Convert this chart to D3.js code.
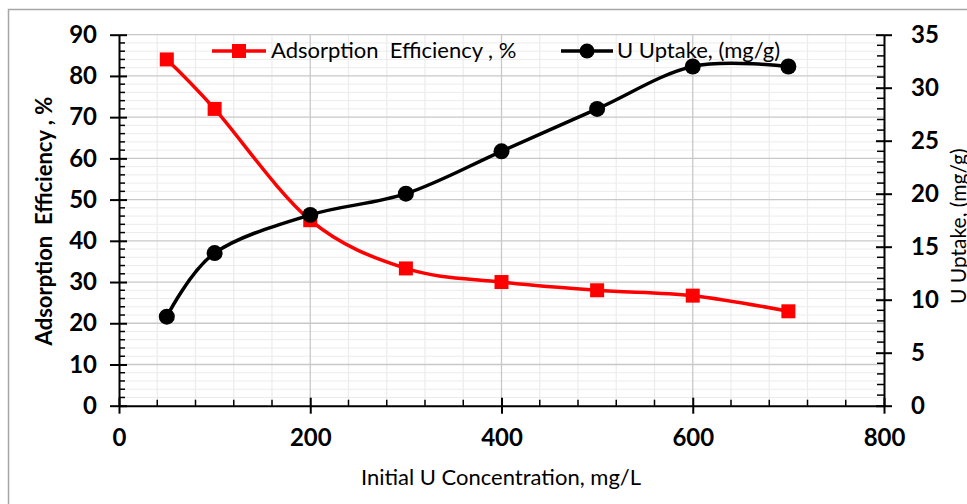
<!DOCTYPE html>
<html>
<head>
<meta charset="utf-8">
<script src="https://cdn.jsdelivr.net/npm/d3@7/dist/d3.min.js"></script>
<style>
  html, body { margin: 0; padding: 0; background: #fff; }
  svg { display: block; font-family: Lato, "Open Sans", sans-serif; }
  text { white-space: pre; }
</style>
</head>
<body>
<svg id="chart" width="967" height="504"></svg>
<script>
// Initial uranium concentration (mg/L)
const concentration = [50, 100, 200, 300, 400, 500, 600, 700];
// Adsorption efficiency (%) — left axis
const efficiency = [84, 72, 45, 33.3, 30, 28, 26.7, 22.9];
// Uranium uptake (mg/g) — right axis
const uptake = [8.4, 14.4, 18, 20, 24, 28, 32, 32];

const xTicks = [0, 200, 400, 600, 800];
const yLeftTicks = [0, 10, 20, 30, 40, 50, 60, 70, 80, 90];
const yRightTicks = [0, 5, 10, 15, 20, 25, 30, 35];

const seriesNames = ["Adsorption  Efficiency , %", "U Uptake, (mg/g)"];
const xTitle = "Initial U Concentration, mg/L";
const yLeftTitle = "Adsorption  Efficiency , %";
const yRightTitle = "U Uptake, (mg/g)";

const svg = d3.select("#chart");

const plot = { left: 119, right: 884, top: 34.7, bottom: 405.7 };
const x = d3.scaleLinear().domain([0, 800]).range([plot.left, plot.right]);
const yL = d3.scaleLinear().domain([0, 90]).range([plot.bottom, plot.top]);
const yR = d3.scaleLinear().domain([0, 35]).range([plot.bottom, plot.top]);

// Outer chart frame
svg.append("rect")
  .attr("x", 8.5).attr("y", 9.5)
  .attr("width", 1000).attr("height", 600)
  .attr("fill", "none").attr("stroke", "#a6a6a6").attr("stroke-width", 1.5);

// Gridlines: minor first, then major on top
const grid = svg.append("g");
const hMinor = d3.range(0, 91, 2).filter(v => v % 10 !== 0);
const vMinor = d3.range(0, 801, 40).filter(v => v % 200 !== 0);
grid.selectAll(".hmin").data(hMinor).join("line")
  .attr("x1", plot.left).attr("x2", plot.right)
  .attr("y1", d => yL(d)).attr("y2", d => yL(d))
  .attr("stroke", "#ececec").attr("stroke-width", 1);
grid.selectAll(".vmin").data(vMinor).join("line")
  .attr("y1", plot.top).attr("y2", plot.bottom)
  .attr("x1", d => x(d)).attr("x2", d => x(d))
  .attr("stroke", "#ececec").attr("stroke-width", 1.2);
grid.selectAll(".hmaj").data(yLeftTicks.filter(v => v > 0)).join("line")
  .attr("x1", plot.left).attr("x2", plot.right)
  .attr("y1", d => yL(d)).attr("y2", d => yL(d))
  .attr("stroke", "#c8c8c8").attr("stroke-width", 1.3);
grid.selectAll(".vmaj").data(xTicks.filter(v => v > 0 && v < 800)).join("line")
  .attr("y1", plot.top).attr("y2", plot.bottom)
  .attr("x1", d => x(d)).attr("x2", d => x(d))
  .attr("stroke", "#c8c8c8").attr("stroke-width", 1.3);

// Axes
function styleAxis(g) {
  g.selectAll(".domain").attr("stroke", "#000").attr("stroke-width", 2);
  g.selectAll(".tick line").attr("stroke", "#000").attr("stroke-width", 2);
  g.selectAll("text").attr("fill", "#000").attr("font-weight", "bold")
    .attr("font-size", 24).attr("font-family", "Lato, 'Open Sans', sans-serif");
}

// Minor ticks (inside the plot)
const minorTicks = svg.append("g");
minorTicks.selectAll(".lmin").data(d3.range(0, 91, 2).filter(v => v % 10 !== 0)).join("line")
  .attr("x1", plot.left).attr("x2", plot.left + 6)
  .attr("y1", d => yL(d)).attr("y2", d => yL(d))
  .attr("stroke", "#000").attr("stroke-width", 1.5);
minorTicks.selectAll(".rmin").data(d3.range(0, 36, 1).filter(v => v % 5 !== 0)).join("line")
  .attr("x1", plot.right - 7).attr("x2", plot.right)
  .attr("y1", d => yR(d)).attr("y2", d => yR(d))
  .attr("stroke", "#000").attr("stroke-width", 1.5);
minorTicks.selectAll(".xmin").data(vMinor).join("line")
  .attr("x1", d => x(d)).attr("x2", d => x(d))
  .attr("y1", plot.bottom - 6).attr("y2", plot.bottom)
  .attr("stroke", "#000").attr("stroke-width", 1.5);

const xAxis = svg.append("g")
  .attr("transform", `translate(0,${plot.bottom})`)
  .call(d3.axisBottom(x).tickValues(xTicks).tickSizeInner(8).tickSizeOuter(0).tickPadding(15))
  .call(styleAxis);
xAxis.selectAll(".tick line").attr("y1", -8);

const yAxisL = svg.append("g")
  .attr("transform", `translate(${plot.left},0)`)
  .call(d3.axisLeft(yL).tickValues(yLeftTicks).tickSizeInner(9).tickSizeOuter(0).tickPadding(13))
  .call(styleAxis);
yAxisL.selectAll(".tick line").attr("x1", 8);

const yAxisR = svg.append("g")
  .attr("transform", `translate(${plot.right},0)`)
  .call(d3.axisRight(yR).tickValues(yRightTicks).tickSizeInner(8).tickSizeOuter(0).tickPadding(19))
  .call(styleAxis);
yAxisR.selectAll(".tick line").attr("x1", -8);

// Axis titles
svg.append("text")
  .attr("x", 501).attr("y", 485)
  .attr("text-anchor", "middle").attr("font-size", 22).attr("fill", "#000")
  .text(xTitle);

svg.append("text")
  .attr("transform", `translate(52,221) rotate(-90)`)
  .attr("text-anchor", "middle").attr("font-size", 22).attr("font-weight", "bold").attr("fill", "#000")
  .text(yLeftTitle);

svg.append("text")
  .attr("transform", `translate(966,304) rotate(-90)`)
  .attr("text-anchor", "start").attr("font-size", 21).attr("fill", "#000")
  .text(yRightTitle);

// Series
const curve = d3.curveCardinal.tension(0);
const effData = concentration.map((c, i) => ({ x: c, y: efficiency[i] }));
const uptData = concentration.map((c, i) => ({ x: c, y: uptake[i] }));

svg.append("path")
  .datum(effData)
  .attr("fill", "none").attr("stroke", "#ff0000").attr("stroke-width", 3.5)
  .attr("d", d3.line().x(d => x(d.x)).y(d => yL(d.y)).curve(curve));

svg.append("path")
  .datum(uptData)
  .attr("fill", "none").attr("stroke", "#000").attr("stroke-width", 3.5)
  .attr("d", d3.line().x(d => x(d.x)).y(d => yR(d.y)).curve(curve));

const sq = 14;
svg.selectAll(".sq").data(effData).join("rect")
  .attr("x", d => x(d.x) - sq / 2).attr("y", d => yL(d.y) - sq / 2)
  .attr("width", sq).attr("height", sq).attr("fill", "#ff0000");

svg.selectAll(".dot").data(uptData).join("circle")
  .attr("cx", d => x(d.x)).attr("cy", d => yR(d.y)).attr("r", 8)
  .attr("fill", "#000");

// Legend
const legend = svg.append("g");
legend.append("line").attr("x1", 212).attr("x2", 266).attr("y1", 51).attr("y2", 51)
  .attr("stroke", "#ff0000").attr("stroke-width", 3.5);
legend.append("rect").attr("x", 239 - 7).attr("y", 51 - 7).attr("width", 14).attr("height", 14)
  .attr("fill", "#ff0000");
legend.append("text").attr("x", 271).attr("y", 58).attr("font-size", 22).attr("fill", "#000")
  .text(seriesNames[0]);

legend.append("line").attr("x1", 561).attr("x2", 613).attr("y1", 51).attr("y2", 51)
  .attr("stroke", "#000").attr("stroke-width", 3.5);
legend.append("circle").attr("cx", 587).attr("cy", 51).attr("r", 7.5).attr("fill", "#000");
legend.append("text").attr("x", 617).attr("y", 58).attr("font-size", 22).attr("fill", "#000")
  .text(seriesNames[1]);
</script>
</body>
</html>
